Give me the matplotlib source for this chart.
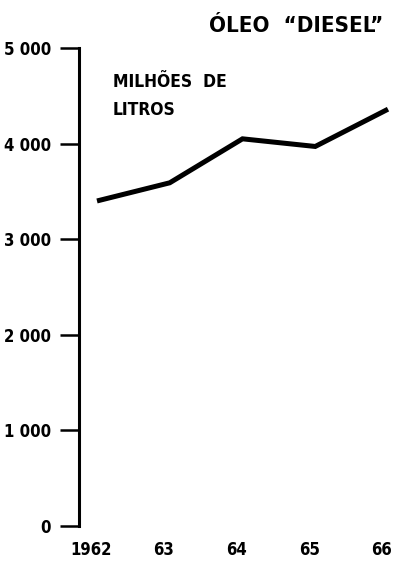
import matplotlib
matplotlib.use("Agg")
import matplotlib.pyplot as plt
import matplotlib.transforms as mtransforms
from matplotlib import font_manager as fm

years = [1962, 1963, 1964, 1965, 1966]
year_labels = ["1962", "63", "64", "65", "66"]
diesel = [3400, 3590, 4050, 3970, 4360]
y_ticks = [0, 1000, 2000, 3000, 4000, 5000]
y_tick_labels = ["0", "1 000", "2 000", "3 000", "4 000", "5 000"]

plt.rcParams["font.family"] = ["DejaVu Sans"]
plt.rcParams["font.weight"] = "bold"
plt.rcParams["font.stretch"] = "condensed"

W, H = 395, 562
fig = plt.figure(figsize=(W / 100, H / 100), dpi=100)
ax = fig.add_axes([79 / W, (H - 526) / H, (W - 79) / W, 478 / H])

ax.plot(years, diesel, color="black", linewidth=3.6, solid_joinstyle="miter",
        solid_capstyle="butt")

px = 72.75  # pixels per year
x0 = years[0] - 18 / px
x1 = x0 + (W - 79) / px
ax.set_xlim(x0, x1)
ax.set_ylim(0, 5000)

for s in ["top", "right", "bottom"]:
    ax.spines[s].set_visible(False)
ax.spines["left"].set_linewidth(2.2)

ax.set_yticks(y_ticks)
ax.set_yticklabels(y_tick_labels, fontsize=12, fontweight="bold", fontstretch="condensed")
ax.tick_params(axis="y", length=14, width=1.8, pad=6, direction="out")

ax.set_xticks(years)
ax.set_xticklabels(year_labels, fontsize=12, fontweight="bold", fontstretch="condensed")
ax.tick_params(axis="x", length=0, pad=11)
offset = mtransforms.ScaledTranslation(-6 / 100, 0, fig.dpi_scale_trans)
for lbl in ax.get_xticklabels():
    lbl.set_transform(lbl.get_transform() + offset)

fig.text(383 / W, (H - 32) / H, "ÓLEO  “DIESEL”", ha="right", va="baseline",
         fontsize=16, fontweight="bold", fontstretch="condensed")
fig.text(113 / W, (H - 87) / H, "MILHÕES  DE", ha="left", va="baseline",
         fontsize=12.5, fontweight="bold", fontstretch="condensed")
fig.text(113 / W, (H - 115) / H, "LITROS", ha="left", va="baseline",
         fontsize=12.5, fontweight="bold", fontstretch="condensed")

fig.savefig("out.png", dpi=100)
